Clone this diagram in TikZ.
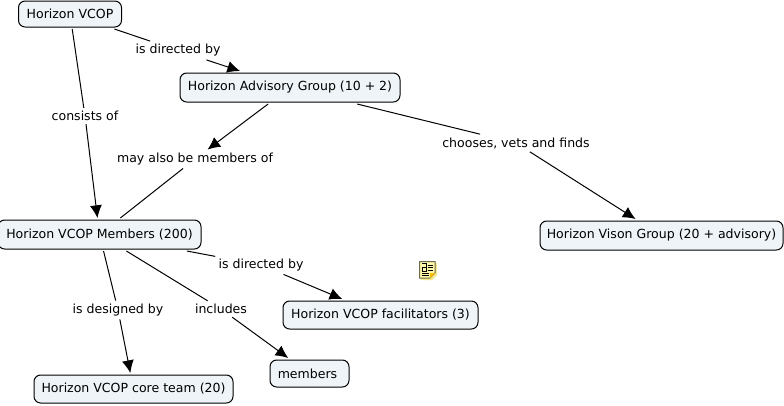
\documentclass[tikz,border=0pt]{standalone}
\usepackage{fontspec}
\setmainfont{DejaVu Sans}
\usetikzlibrary{arrows.meta}
\definecolor{conceptfill}{HTML}{EEF4F7}
\definecolor{noteyellow}{HTML}{FFF7A8}
\definecolor{noteshadow}{HTML}{F5E98A}
\definecolor{notegrey}{HTML}{6B6B52}
\newcommand{\pxfont}{\fontsize{9.4pt}{11pt}\selectfont}
\tikzset{
  x=0.75pt,y=-0.75pt,
  concept/.style={draw=black,line width=0.75pt,fill=conceptfill,rounded corners=5pt,inner sep=0pt,outer sep=1.5pt,font=\pxfont,text=black},
  linklabel/.style={inner sep=0pt,outer sep=2.5pt,font=\pxfont,text=black},
  plainline/.style={draw=black,line width=0.75pt},
  arrowline/.style={plainline,-{Latex[length=9.5pt,width=9pt]}},
}
\begin{document}
\begin{tikzpicture}
\useasboundingbox (0,0) rectangle (784,405);
\fill[white] (0,0) rectangle (784,405);
% concepts
\node[concept,minimum width=77.25pt,minimum height=19.5pt] (hv) at (70,14) {\raisebox{-0.5pt}{Horizon VCOP}};
\node[concept,minimum width=165pt,minimum height=21.75pt] (adv) at (290,87.5) {\raisebox{-0.5pt}{Horizon Advisory Group (10 + 2)}};
\node[concept,minimum width=152.25pt,minimum height=21.75pt] (mem) at (99.5,234.5) {\raisebox{-0.5pt}{Horizon VCOP Members (200)}};
\node[concept,minimum width=182.25pt,minimum height=21.75pt] (vis) at (661.5,235.5) {\raisebox{-0.5pt}{Horizon Vison Group (20 + advisory)}};
\node[concept,minimum width=146.25pt,minimum height=21pt] (fac) at (380.5,315) {\raisebox{-0.5pt}{Horizon VCOP facilitators (3)}};
\node[concept,minimum width=149.25pt,minimum height=21pt] (core) at (133.5,389) {\raisebox{-0.5pt}{Horizon VCOP core team (20)}};
\node[concept,minimum width=59.25pt,minimum height=20.25pt] (memb) at (309.5,373.5) {\raisebox{-0.5pt}{members}\hspace*{3pt}};
% link labels
\node[linklabel] (l1) at (178,50.5) {is directed by};
\node[linklabel] (l2) at (85,116) {consists of};
\node[linklabel] (l3) at (195,159) {may also be members of};
\node[linklabel] (l4) at (516,143) {chooses, vets and finds};
\node[linklabel] (l5) at (261,265) {is directed by};
\node[linklabel] (l6) at (118,310) {is designed by};
\node[linklabel] (l7) at (221,309) {includes};
% connectors
\draw[plainline] (hv) -- (l1);
\draw[arrowline] (l1) -- (adv);
\draw[plainline] (hv) -- (l2);
\draw[arrowline] (l2) -- (mem);
\draw[plainline] (mem) -- (l3);
\draw[arrowline] (adv) -- (l3);
\draw[plainline] (adv) -- (l4);
\draw[arrowline] (l4) -- (vis);
\draw[plainline] (mem) -- (l5);
\draw[arrowline] (l5) -- (fac);
\draw[plainline] (mem) -- (l6);
\draw[arrowline] (l6) -- (core);
\draw[plainline] (mem) -- (l7);
\draw[arrowline] (l7) -- (memb);
% note icon
\fill[noteshadow] (421,263) -- (437,263) -- (437,275) -- (432,280) -- (421,280) -- cycle;
\draw[fill=noteyellow,draw=notegrey,line width=0.75pt] (419.5,261.5) -- (435,261.5) -- (435,273) -- (430,278) -- (419.5,278) -- cycle;
\fill[orange!50!yellow] (430,278) -- (430,273) -- (435,273) -- cycle;
\draw[black,line width=0.7pt] (422,263.5) -- (426,263.5) -- (426,271) -- (422,271) -- (422,267.5) -- (426,267.5);
\draw[black,line width=0.7pt] (427.5,265) -- (433,265) (427.5,267.5) -- (433,267.5) (427.5,270) -- (433,270) (422,273) -- (429,273) (422,275.5) -- (429,275.5);
\end{tikzpicture}
\end{document}
